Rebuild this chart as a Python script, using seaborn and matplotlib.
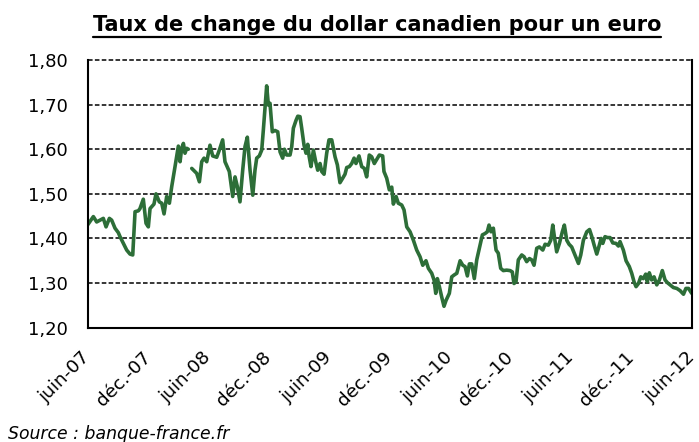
import numpy as np
import pandas as pd
import matplotlib
matplotlib.use('Agg')
import matplotlib.pyplot as plt
import matplotlib.transforms as mtransforms
from matplotlib.lines import Line2D
import seaborn as sb

# mois depuis juin 2007 / taux EUR-CAD
mois = [0.00, 0.58, 0.91, 1.57, 1.84, 2.17, 2.40, 2.73, 3.06, 3.23, 3.56, 3.89, 4.22, 4.49,
        4.72, 5.05, 5.21, 5.54, 5.81, 6.04, 6.21, 6.60, 6.80, 7.13, 7.37, 7.60, 7.86, 8.13,
        8.36, 8.69, 9.02, 9.19, 9.35, 9.52, 9.68, 9.85, 10.01, 10.18,
        10.35, 10.84, 11.11, 11.34, 11.57, 11.84, 12.16, 12.43, 12.83, 13.09, 13.42, 13.65,
        14.08, 14.42, 14.65, 14.88, 15.14, 15.41, 15.64, 15.87, 16.14, 16.41, 16.63, 16.80,
        17.06, 17.30, 17.46, 17.63, 17.79, 17.96, 18.12, 18.35, 18.62, 18.89, 19.12, 19.38,
        19.55, 19.78, 20.11, 20.28, 20.44, 20.71, 20.88, 21.10, 21.27, 21.50, 21.70, 21.87,
        22.00, 22.19, 22.43, 22.66, 22.86, 23.09, 23.26, 23.49, 23.75, 23.98, 24.25, 24.58,
        24.81, 25.07, 25.34, 25.57, 25.74, 26.00, 26.24, 26.47, 26.66, 26.96, 27.23, 27.49,
        27.72, 27.98, 28.22, 28.48, 28.72, 28.98, 29.31, 29.44, 29.71, 29.97, 30.21, 30.37,
        30.64, 30.86, 31.20, 31.43, 31.70, 32.03, 32.36, 32.69, 33.02, 33.29, 33.61, 33.85,
        34.18, 34.41, 34.58, 34.74, 34.94, 35.17, 35.40, 35.60, 35.93, 36.17, 36.40, 36.67,
        37.00, 37.26, 37.49, 37.72, 37.92, 38.15, 38.41, 38.65, 38.98, 39.21, 39.47, 39.70,
        39.87, 40.07, 40.30, 40.57, 40.79, 41.03, 41.29, 41.62, 41.96, 42.18, 42.35, 42.55,
        42.78, 43.12, 43.35, 43.61, 43.88, 44.11, 44.34, 44.61, 44.87, 45.21, 45.44, 45.76,
        46.00, 46.20, 46.36, 46.59, 46.86, 47.15, 47.35, 47.59, 47.82, 48.08, 48.41, 48.75,
        48.98, 49.24, 49.58, 49.85, 50.08, 50.31, 50.57, 50.80, 51.00, 51.17, 51.39, 51.63,
        51.89, 52.16, 52.48, 52.72, 52.88, 53.21, 53.48, 53.80, 54.04, 54.27, 54.47, 54.71,
        54.94, 55.19, 55.43, 55.59, 55.79, 56.02, 56.26, 56.53, 56.79, 57.08, 57.35, 57.58,
        57.85, 58.18, 58.52, 58.85, 59.18, 59.42, 59.68, 60.00]

taux = [1.430, 1.449, 1.437, 1.445, 1.426, 1.445, 1.441, 1.423, 1.413, 1.404, 1.389, 1.374, 1.365, 1.363,
        1.460, 1.462, 1.467, 1.488, 1.434, 1.426, 1.467, 1.477, 1.500, 1.482, 1.479, 1.455, 1.494, 1.479,
        1.516, 1.561, 1.607, 1.572, 1.602, 1.613, 1.591, 1.602, 1.600, np.nan,
        1.557, 1.546, 1.527, 1.572, 1.580, 1.572, 1.609, 1.585, 1.582, 1.598, 1.621, 1.572,
        1.550, 1.494, 1.538, 1.516, 1.482, 1.553, 1.606, 1.627, 1.553, 1.497, 1.553, 1.580,
        1.585, 1.598, 1.643, 1.695, 1.742, 1.699, 1.703, 1.639, 1.642, 1.639, 1.594, 1.580,
        1.600, 1.587, 1.587, 1.606, 1.647, 1.665, 1.674, 1.673, 1.647, 1.609, 1.591, 1.611,
        1.585, 1.561, 1.598, 1.572, 1.553, 1.568, 1.550, 1.544, 1.591, 1.621, 1.621, 1.583,
        1.565, 1.525, 1.535, 1.544, 1.559, 1.561, 1.568, 1.580, 1.568, 1.585, 1.561, 1.557,
        1.538, 1.587, 1.583, 1.568, 1.577, 1.587, 1.585, 1.550, 1.535, 1.509, 1.515, 1.477,
        1.494, 1.479, 1.475, 1.464, 1.426, 1.415, 1.396, 1.374, 1.359, 1.340, 1.350, 1.333,
        1.322, 1.307, 1.277, 1.310, 1.292, 1.269, 1.248, 1.261, 1.277, 1.314, 1.318, 1.322,
        1.350, 1.340, 1.337, 1.316, 1.343, 1.343, 1.310, 1.352, 1.385, 1.408, 1.411, 1.415,
        1.430, 1.415, 1.423, 1.374, 1.367, 1.333, 1.328, 1.329, 1.328, 1.325, 1.299, 1.303,
        1.352, 1.363, 1.359, 1.348, 1.355, 1.352, 1.340, 1.378, 1.381, 1.374, 1.387, 1.385,
        1.396, 1.430, 1.404, 1.370, 1.389, 1.415, 1.430, 1.396, 1.387, 1.381, 1.363, 1.344,
        1.363, 1.396, 1.415, 1.420, 1.404, 1.385, 1.365, 1.383, 1.400, 1.389, 1.404, 1.402,
        1.402, 1.390, 1.389, 1.383, 1.393, 1.374, 1.350, 1.337, 1.322, 1.303, 1.292, 1.299,
        1.314, 1.310, 1.320, 1.303, 1.323, 1.307, 1.314, 1.296, 1.307, 1.328, 1.307, 1.301,
        1.296, 1.290, 1.288, 1.283, 1.275, 1.288, 1.288, 1.277]

tick_mois = [0, 6, 12, 18, 24, 30, 36, 42, 48, 54, 60]
tick_labels = ['juin-07', 'déc.-07', 'juin-08', 'déc.-08', 'juin-09', 'déc.-09',
               'juin-10', 'déc.-10', 'juin-11', 'déc.-11', 'juin-12']
y_ticks = [1.20, 1.30, 1.40, 1.50, 1.60, 1.70, 1.80]

df = pd.DataFrame({'mois': mois, 'taux': taux})
df['segment'] = df['taux'].isna().cumsum()  # trou dans les données
df = df.dropna()

sb.set_style('white')
plt.rcParams['font.family'] = ['DejaVu Sans']
plt.rcParams['text.color'] = 'black'

fig = plt.figure(figsize=(6.99, 4.42), dpi=100)
ax = fig.add_axes([0.1252, 0.2586, 0.8644, 0.6057])

sb.lineplot(data=df, x='mois', y='taux', units='segment', estimator=None,
            color='#2d6e38', linewidth=2.6, ax=ax)

ax.set_xlim(0, 60)
ax.set_ylim(1.2, 1.8)
ax.set_xticks(tick_mois)
ax.set_xticklabels(tick_labels, rotation=45, ha='right', va='center',
                   rotation_mode='anchor', fontsize=13.3, color='black')
shift = mtransforms.ScaledTranslation(3 / 100, 0, fig.dpi_scale_trans)
for lab in ax.get_xticklabels():
    lab.set_transform(lab.get_transform() + shift)
ax.set_yticks(y_ticks)
ax.set_yticklabels(['{:.2f}'.format(v).replace('.', ',') for v in y_ticks],
                   fontsize=13, color='black')
ax.set_xlabel('')
ax.set_ylabel('')

for v in y_ticks[1:]:
    ax.axhline(v, color='black', linestyle=(0, (3, 1.5)), linewidth=1.1,
               zorder=0, clip_on=False)

ax.tick_params(axis='x', direction='out', length=4, width=1.2, color='black', pad=15.5)
ax.tick_params(axis='y', direction='out', length=4.5, width=1.2, color='black', pad=10)
for side in ['left', 'bottom', 'right']:
    ax.spines[side].set_color('black')
    ax.spines[side].set_linewidth(1.5)
ax.spines['top'].set_visible(False)

title = fig.text(0.539, 1 - 31 / 442, 'Taux de change du dollar canadien pour un euro',
                 ha='center', va='baseline', fontsize=15, fontweight='bold')
fig.text(0.011, 1 - 439 / 442, 'Source : banque-france.fr', ha='left', va='baseline',
         fontsize=12.4, style='italic')

# soulignement du titre
fig.canvas.draw()
bb = title.get_window_extent()
W, H = fig.bbox.width, fig.bbox.height
fig.add_artist(Line2D([bb.x0 / W, bb.x1 / W], [(bb.y0 - 1.5) / H, (bb.y0 - 1.5) / H],
                      color='black', linewidth=1.6))

fig.savefig('out.png', dpi=100)
